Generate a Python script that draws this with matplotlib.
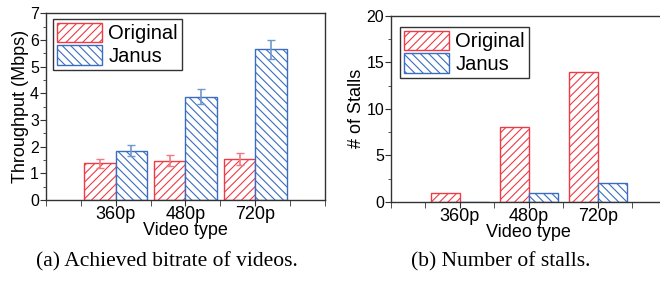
import numpy as np
import matplotlib
matplotlib.use("Agg")
import matplotlib.pyplot as plt

plt.rcParams['font.family'] = ['Liberation Sans', 'DejaVu Sans']
plt.rcParams['hatch.linewidth'] = 0.8

# data
categories = ['360p', '480p', '720p']
tput_orig = [1.37, 1.48, 1.53]
tput_orig_err = [0.17, 0.22, 0.23]
tput_janus = [1.85, 3.88, 5.65]
tput_janus_err = [0.20, 0.29, 0.36]
stalls_orig = [1, 8, 14]
stalls_janus = [0, 1, 2]

red = '#EE3B45'
blue = '#3A6CC0'
red_err = '#F07A80'
blue_err = '#7096D0'
spine_c = '#333333'

x = np.arange(1, len(categories) + 1)

fig = plt.figure(figsize=(6.6, 2.82), dpi=100)
ax1 = fig.add_axes([0.0697, 0.2908, 0.4227, 0.662])
ax2 = fig.add_axes([0.5924, 0.2837, 0.418, 0.6606])


def style_axes(ax):
    for s in ax.spines.values():
        s.set_color(spine_c)
        s.set_linewidth(1.0)
    ax.set_xlim(0, 4)
    ax.set_xticks(x)
    ax.set_xticklabels(categories, fontsize=13)
    ax.set_xticks([0, 0.5, 1.5, 2.5, 3.5, 4], minor=True)
    ax.tick_params(axis='both', which='major', direction='out', length=4,
                   color=spine_c, pad=1)
    ax.tick_params(axis='x', which='minor', direction='out', length=4, color=spine_c)
    ax.tick_params(axis='y', which='minor', direction='out', length=2, color=spine_c)
    ax.tick_params(axis='y', labelsize=11.5)
    ax.tick_params(axis='x', pad=0.5)
    ax.set_xlabel('Video type', fontsize=13, labelpad=-1)


# (a) throughput
w = 0.45
ax1.bar(x - w / 2, tput_orig, w, facecolor='white', edgecolor=red, hatch='////',
        linewidth=1.0, label='Original')
ax1.bar(x + w / 2, tput_janus, w, facecolor='white', edgecolor=blue, hatch='\\\\\\\\',
        linewidth=1.0, label='Janus')
ax1.errorbar(x - w / 2, tput_orig, yerr=tput_orig_err, fmt='none', ecolor=red_err,
             elinewidth=1.2, capsize=3)
ax1.errorbar(x + w / 2, tput_janus, yerr=tput_janus_err, fmt='none', ecolor=blue_err,
             elinewidth=1.2, capsize=3)
style_axes(ax1)
ax1.set_ylim(0, 7)
ax1.set_yticks(range(0, 8))
ax1.set_yticks(np.arange(0.5, 7, 1), minor=True)
ax1.set_ylabel('Throughput (Mbps)', fontsize=13, labelpad=1)
leg1 = ax1.legend(loc='upper left', bbox_to_anchor=(0.025, 0.97), fontsize=14.5,
                  fancybox=False, framealpha=1, edgecolor=spine_c,
                  handlelength=2.25, handleheight=1.1, handletextpad=0.3,
                  borderpad=0.2, labelspacing=0.1, borderaxespad=0)
leg1.get_frame().set_linewidth(1.0)

# (b) stalls
w2 = 0.42
ax2.bar(x - w2 / 2, stalls_orig, w2, facecolor='white', edgecolor=red, hatch='////',
        linewidth=1.0, label='Original')
ax2.bar(x + w2 / 2, stalls_janus, w2, facecolor='white', edgecolor=blue, hatch='\\\\\\\\',
        linewidth=1.0, label='Janus')
style_axes(ax2)
ax2.set_ylim(0, 20)
ax2.set_yticks([0, 5, 10, 15, 20])
ax2.set_yticks(np.arange(2.5, 20, 5), minor=True)
ax2.set_ylabel('# of Stalls', fontsize=13, labelpad=1)
leg2 = ax2.legend(loc='upper left', bbox_to_anchor=(0.033, 0.94), fontsize=14.5,
                  fancybox=False, framealpha=1, edgecolor=spine_c,
                  handlelength=2.25, handleheight=1.1, handletextpad=0.3,
                  borderpad=0.2, labelspacing=0.1, borderaxespad=0)
leg2.get_frame().set_linewidth(1.0)

fig.text(167 / 660, 1 - 262 / 282, '(a) Achieved bitrate of videos.', ha='center',
         va='center', fontsize=15.5, family='Liberation Serif')
fig.text(501 / 660, 1 - 262 / 282, '(b) Number of stalls.', ha='center',
         va='center', fontsize=15.5, family='Liberation Serif')

fig.savefig('out.png', dpi=100)
